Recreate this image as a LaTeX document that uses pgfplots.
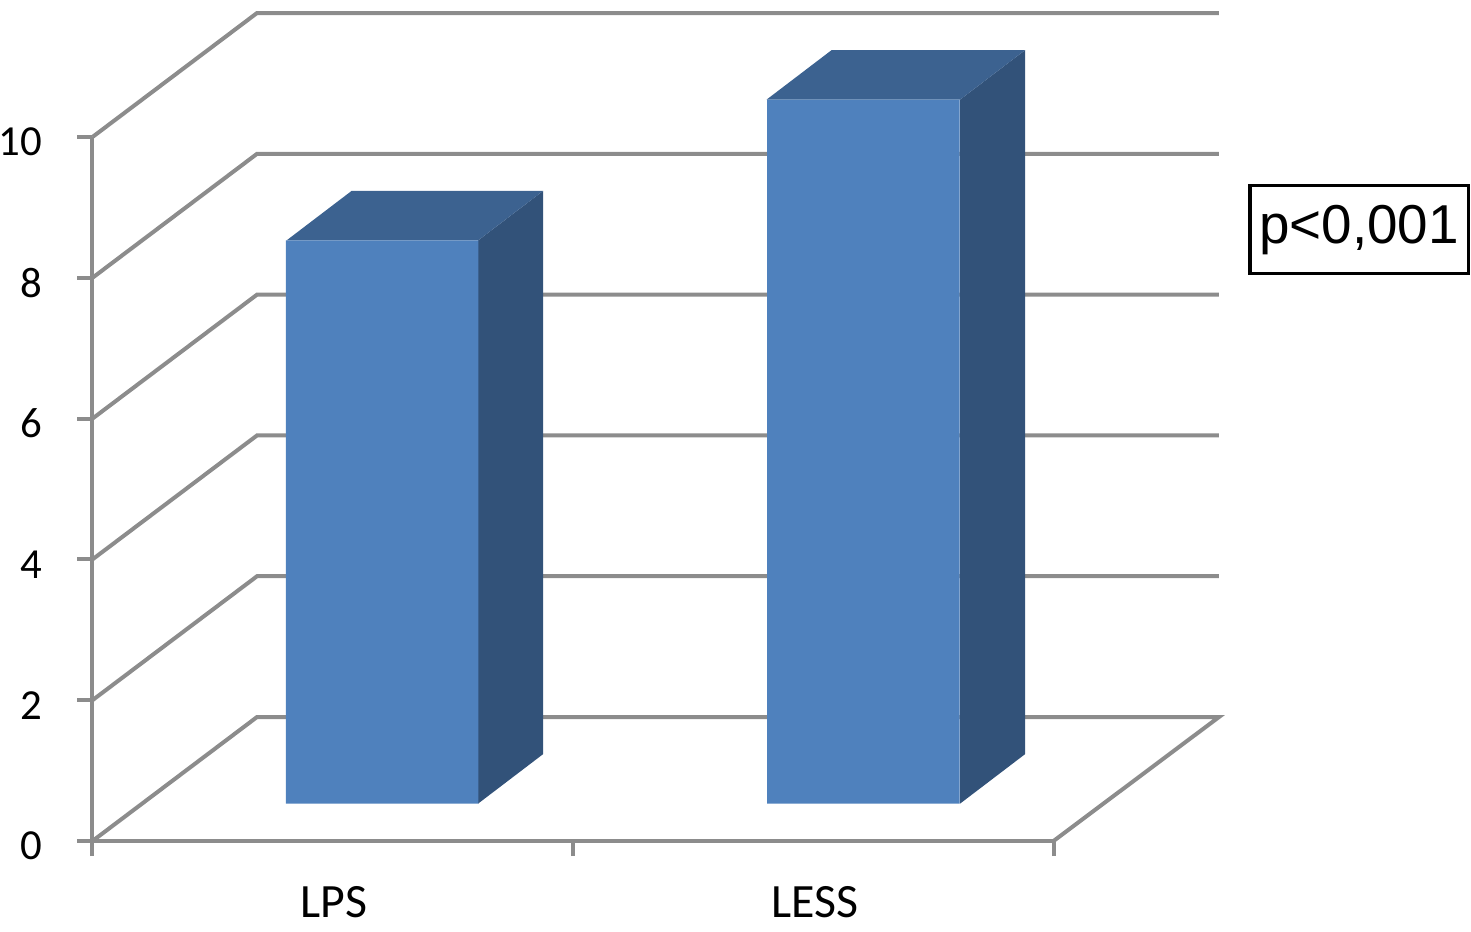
\documentclass[border=0pt]{standalone}
\usepackage{fontspec}
\setmainfont{Carlito}
\usepackage{pgfplots}
\pgfplotsset{compat=1.18}
\definecolor{gridgrey}{HTML}{8C8C8C}
\definecolor{barfront}{HTML}{4F81BD}
\definecolor{bartop}{HTML}{3C6290}
\definecolor{barside}{HTML}{325279}
\begin{document}
\begin{tikzpicture}
\begin{axis}[
  scale only axis, width=961bp, height=704bp,
  xmin=0, xmax=2, ymin=0, ymax=10,
  clip=false,
  axis x line*=bottom, axis y line*=left,
  axis line style={gridgrey, line width=4bp, -},
  xtick={0,1,2}, xticklabels={},
  ytick={0,2,4,6,8,10},
  extra x ticks={0.5,1.5},
  extra x tick labels={LPS,LESS},
  extra x tick style={major tick length=0pt, tick style={draw=none},
    xticklabel style={font=\fontsize{48}{52}\selectfont, yshift=-42bp, xshift=1.5bp}},
  tick style={gridgrey, line width=4bp},
  tick align=outside,
  major tick length=15bp,
  yticklabel style={font=\fontsize{43}{46}\selectfont, anchor=east, xshift=-32bp, yshift=-5bp},
  /pgf/number format/assume math mode=true,
]
% walls and floor
\addplot[gridgrey, line width=4bp] coordinates {(0,0)(0.3424,1.761)(2.3444,1.761)(2,0)};
\addplot[gridgrey, line width=4bp] coordinates {(0,2)(0.3424,3.761)(2.3444,3.761)};
\addplot[gridgrey, line width=4bp] coordinates {(0,4)(0.3424,5.761)(2.3444,5.761)};
\addplot[gridgrey, line width=4bp] coordinates {(0,6)(0.3424,7.761)(2.3444,7.761)};
\addplot[gridgrey, line width=4bp] coordinates {(0,8)(0.3424,9.761)(2.3444,9.761)};
\addplot[gridgrey, line width=4bp] coordinates {(0,10)(0.3424,11.761)(2.3444,11.761)};
% LPS side and top
\addplot[barside, fill=barside, draw=none] coordinates {(0.8023,0.53)(0.9376,1.233)(0.9376,9.233)(0.8023,8.53)} --cycle;
\addplot[bartop, fill=bartop, draw=none] coordinates {(0.4037,8.53)(0.5390,9.233)(0.9376,9.233)(0.8023,8.53)} --cycle;
% LESS side and top
\addplot[barside, fill=barside, draw=none] coordinates {(1.8054,0.53)(1.9407,1.233)(1.9407,11.233)(1.8054,10.53)} --cycle;
\addplot[bartop, fill=bartop, draw=none] coordinates {(1.4027,10.53)(1.5380,11.233)(1.9407,11.233)(1.8054,10.53)} --cycle;
% front faces: the values
\addplot[ybar, bar width=192.5bp, bar shift=0pt, fill=barfront, draw=none, yshift=37.3bp] coordinates {(0.603,8)(1.6041,10)};
\node[draw=black, line width=3.5bp, fill=white, inner sep=0pt, minimum width=218.5bp, minimum height=88bp] at (axis cs:2.6358,8.685) {\fontspec{Liberation Sans}\fontsize{55}{60}\selectfont p<0,001};
\coordinate (bl) at (axis cs:-0.1925,-1.2926);
\coordinate (tr) at (axis cs:2.8689,11.946);
\end{axis}
\pgfresetboundingbox
\path[use as bounding box] (bl) rectangle (tr);
\end{tikzpicture}
\end{document}
